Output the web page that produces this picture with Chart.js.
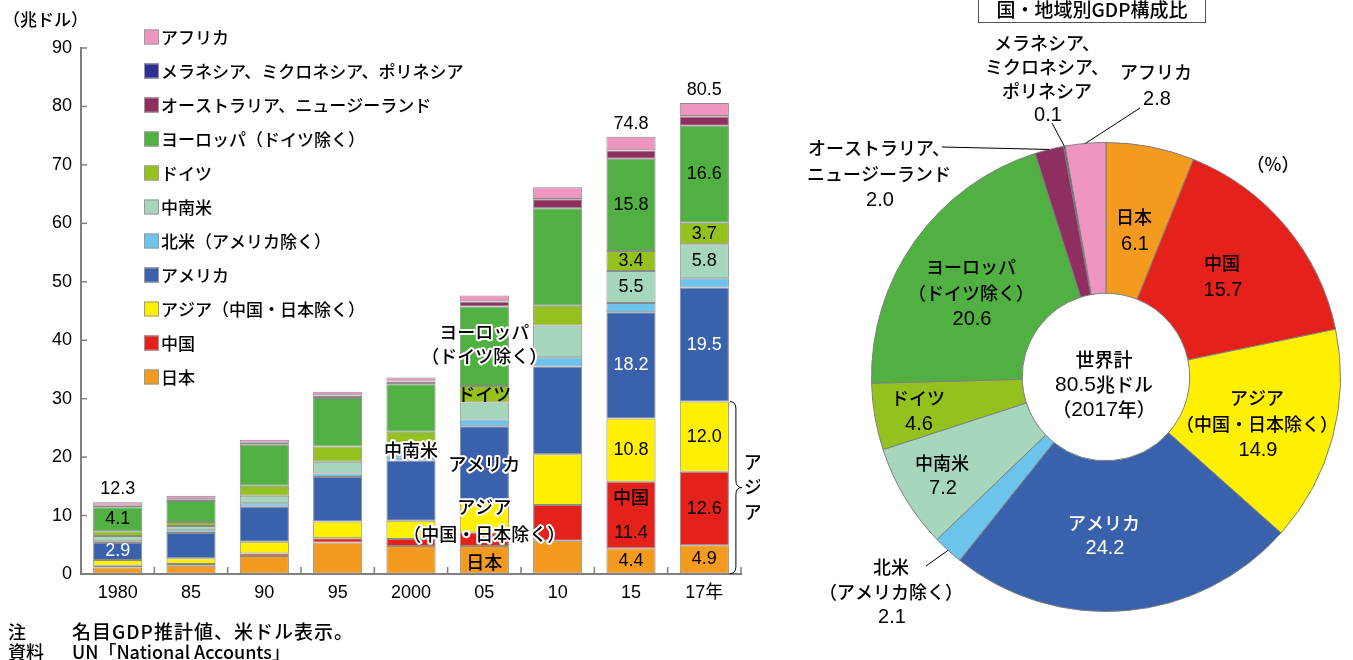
<!DOCTYPE html>
<html lang="ja">
<head>
<meta charset="utf-8">
<title>国・地域別GDP</title>
<script src="https://cdn.jsdelivr.net/npm/chart.js"></script>
<style>
  html, body { margin: 0; padding: 0; background: #fff; }
  body { width: 1353px; height: 660px; position: relative; overflow: hidden; font-family: "Noto Sans CJK JP", sans-serif; font-weight: 500; color: #000; }
  #barChart { position: absolute; left: 0; top: 0; }
  #pieChart { position: absolute; left: 760px; top: 0; }
  .txt { position: absolute; white-space: nowrap; }
  .unit { left: 3px; top: 8px; font-size: 17px; line-height: 22px; }
  .title { left: 978px; top: -12px; width: 228px; height: 35px; box-sizing: border-box; border: 1px solid #555; text-align: center; font-size: 19px; line-height: 19px; padding-top: 10px; }
  .note { left: 8px; font-size: 18px; line-height: 20px; }
  .note span { position: absolute; left: 64px; }
  .note span.wide { font-size: 19px; letter-spacing: 1px; }
</style>
</head>
<body>
<canvas id="barChart" width="760" height="660"></canvas>
<canvas id="pieChart" width="593" height="660"></canvas>
<div class="txt unit">（兆ドル）</div>
<div class="txt title">国・地域別GDP構成比</div>
<div class="txt note" style="top:621px">注<span class="wide">名目GDP推計値、米ドル表示。</span></div>
<div class="txt note" style="top:641px">資料<span>UN「National Accounts」</span></div>
<script>
// ---- data (兆ドル) ----
const years = ['1980', '85', '90', '95', '2000', '05', '10', '15', '17年'];

const japan    = [1.1, 1.4, 3.1, 5.4, 4.8, 4.8, 5.7, 4.4, 4.9];
const china    = [0.3, 0.3, 0.4, 0.7, 1.2, 2.3, 6.1, 11.4, 12.6];
const asiaEx   = [1.0, 1.0, 2.0, 2.9, 3.1, 5.1, 8.7, 10.8, 12.0];
const america  = [2.9, 4.3, 6.0, 7.6, 10.3, 13.1, 15.0, 18.2, 19.5];
const northAm  = [0.3, 0.5, 0.6, 0.6, 0.75, 1.15, 1.6, 1.55, 1.6];
const latinAm  = [0.9, 0.7, 1.3, 2.0, 2.3, 2.9, 5.4, 5.5, 5.8];
const germany  = [0.8, 0.7, 1.7, 2.6, 1.9, 2.8, 3.4, 3.4, 3.7];
const europeEx = [4.1, 3.6, 7.0, 8.3, 8.1, 13.6, 16.7, 15.8, 16.6];
const ausNz    = [0.25, 0.3, 0.35, 0.45, 0.45, 0.85, 1.5, 1.4, 1.6];
const oceania  = [0.01, 0.01, 0.02, 0.03, 0.03, 0.05, 0.06, 0.07, 0.08];
const africa   = [0.6, 0.6, 0.5, 0.6, 0.7, 1.0, 2.0, 2.3, 2.2];

const totalShown = [12.3, null, null, null, null, null, null, 74.8, 80.5];

// 2017年 構成比 (%)
const share2017 = [6.1, 15.7, 14.9, 24.2, 2.1, 7.2, 4.6, 20.6, 2.0, 0.1, 2.8];

const regionNames = ['日本', '中国', 'アジア（中国・日本除く）', 'アメリカ', '北米（アメリカ除く）', '中南米',
  'ドイツ', 'ヨーロッパ（ドイツ除く）', 'オーストラリア、ニュージーランド', 'メラネシア、ミクロネシア、ポリネシア', 'アフリカ'];
const regionValues = [japan, china, asiaEx, america, northAm, latinAm, germany, europeEx, ausNz, oceania, africa];
const regionColors = ['#F39A1F', '#E5211B', '#FFF000', '#3A61AB', '#6CC3EC', '#A6D6BC',
  '#95C11F', '#50B041', '#8F2F5F', '#2E3191', '#EE96C0'];

const GRAY = '#7f7f7f';
const NUM_FONT = '"Liberation Sans", Arial, "Noto Sans CJK JP", sans-serif';
const NARROW_FONT = '"Liberation Sans Narrow", "Arial Narrow", "Liberation Sans", sans-serif';
const JP_FONT = '"Noto Sans CJK JP", sans-serif';

function drawText(ctx, text, x, y, font, color, halo) {
  ctx.font = font;
  ctx.textAlign = 'center';
  ctx.textBaseline = 'middle';
  if (halo) {
    ctx.lineWidth = 4;
    ctx.lineJoin = 'round';
    ctx.strokeStyle = '#fff';
    ctx.strokeText(text, x, y);
  }
  ctx.fillStyle = color || '#000';
  ctx.fillText(text, x, y);
}

// text made of runs in different fonts, centered on x
function drawMixed(ctx, parts, x, y, color) {
  ctx.textBaseline = 'middle';
  ctx.textAlign = 'left';
  let w = 0;
  parts.forEach(p => { ctx.font = p[1]; w += ctx.measureText(p[0]).width; });
  let cx = x - w / 2;
  ctx.fillStyle = color || '#000';
  parts.forEach(p => { ctx.font = p[1]; ctx.fillText(p[0], cx, y); cx += ctx.measureText(p[0]).width; });
}

// ---- bar chart decorations ----
const barDecor = {
  id: 'barDecor',
  afterDraw(chart) {
    const ctx = chart.ctx;
    const xs = chart.scales.x, ys = chart.scales.y, area = chart.chartArea;
    const seg = (di, i) => {
      const el = chart.getDatasetMeta(di).data[i];
      return { x: el.x, y: (el.y + el.base) / 2, top: Math.min(el.y, el.base), bottom: Math.max(el.y, el.base), right: el.x + el.width / 2 };
    };
    ctx.save();

    // ticks pointing inwards
    ctx.strokeStyle = GRAY;
    ctx.lineWidth = 1.5;
    ys.ticks.forEach(t => {
      const py = ys.getPixelForValue(t.value);
      ctx.beginPath(); ctx.moveTo(area.left, py); ctx.lineTo(area.left + 6, py); ctx.stroke();
    });
    for (let i = 1; i <= years.length; i++) {
      const px = i < years.length ? (xs.getPixelForValue(i - 1) + xs.getPixelForValue(i)) / 2 : area.right;
      ctx.beginPath(); ctx.moveTo(px, area.bottom); ctx.lineTo(px, area.bottom - 7); ctx.stroke();
    }

    // legend (top to bottom = reversed stack)
    const order = regionNames.map((n, i) => i).reverse();
    order.forEach((di, k) => {
      const ly = 37 + k * 34;
      ctx.fillStyle = regionColors[di];
      ctx.fillRect(144, ly - 7.5, 15, 15);
      ctx.strokeStyle = '#9a9a9a'; ctx.lineWidth = 1;
      ctx.strokeRect(144.5, ly - 7, 14, 14);
      ctx.font = '500 17px ' + JP_FONT;
      ctx.textAlign = 'left'; ctx.textBaseline = 'middle';
      ctx.fillStyle = '#000';
      ctx.fillText(regionNames[di], 161, ly + 1);
    });

    // totals above bars
    const topIdx = regionValues.length - 1;
    totalShown.forEach((v, i) => {
      if (v == null) return;
      const s = seg(topIdx, i);
      drawText(ctx, v.toFixed(1), s.x, s.top - 13, '18px ' + NUM_FONT, '#000');
    });

    // values inside segments: [year index, dataset index, colour]
    const valueMarks = [
      [0, 7], [0, 3, '#fff'],
      [7, 7], [7, 6], [7, 5], [7, 3, '#fff'], [7, 2], [7, 0],
      [8, 7], [8, 6], [8, 5], [8, 3, '#fff'], [8, 2], [8, 1], [8, 0]
    ];
    valueMarks.forEach(m => {
      const s = seg(m[1], m[0]);
      drawText(ctx, regionValues[m[1]][m[0]].toFixed(1), s.x, s.y, '18px ' + NUM_FONT, m[2] || '#000');
    });
    const c15 = seg(1, 7);
    drawText(ctx, '中国', c15.x, c15.y - 18, '500 18px ' + JP_FONT, '#000');
    drawText(ctx, china[7].toFixed(1), c15.x, c15.y + 18, '18px ' + NUM_FONT, '#000');

    // region names on the 2005 (and 2000) bars
    const jp18 = '500 18px ' + JP_FONT;
    const eu = seg(7, 5);
    drawText(ctx, 'ヨーロッパ', eu.x, eu.y - 14, jp18, '#000', true);
    drawText(ctx, '（ドイツ除く）', eu.x, eu.y + 10, jp18, '#000', true);
    const de = seg(6, 5);
    drawText(ctx, 'ドイツ', de.x, de.y, jp18, '#000');
    const la = seg(5, 4);
    drawText(ctx, '中南米', la.x, la.y + 1, jp18, '#000', true);
    const us = seg(3, 5);
    drawText(ctx, 'アメリカ', us.x, us.y, jp18, '#000', true);
    const as = seg(2, 5);
    drawText(ctx, 'アジア', as.x, as.y - 10, jp18, '#000', true);
    drawText(ctx, '（中国・日本除く）', as.x, as.y + 17, jp18, '#000', true);
    const jp = seg(0, 5);
    drawText(ctx, '日本', jp.x, jp.y + 2, jp18, '#000');

    // brace for アジア total on 2017 bar
    const top = seg(2, 8).top, bottom = seg(0, 8).bottom, xr = seg(0, 8).right;
    const mid = (top + bottom) / 2;
    const xa = xr + 1, xb = xr + 7, xc = xr + 13;
    ctx.strokeStyle = '#000'; ctx.lineWidth = 1;
    ctx.beginPath();
    ctx.moveTo(xa, top);
    ctx.quadraticCurveTo(xb, top, xb, top + 7);
    ctx.lineTo(xb, mid - 7);
    ctx.quadraticCurveTo(xb, mid, xc, mid);
    ctx.quadraticCurveTo(xb, mid, xb, mid + 7);
    ctx.lineTo(xb, bottom - 7);
    ctx.quadraticCurveTo(xb, bottom, xa, bottom);
    ctx.stroke();
    ['ア', 'ジ', 'ア'].forEach((ch, k) => drawText(ctx, ch, xr + 24, mid - 25 + k * 25, jp18, '#000'));

    ctx.restore();
  }
};

new Chart(document.getElementById('barChart'), {
  type: 'bar',
  data: {
    labels: years,
    datasets: regionValues.map((vals, i) => ({
      label: regionNames[i],
      data: vals,
      backgroundColor: regionColors[i],
      borderColor: '#8a8a8a',
      borderWidth: 1,
      borderSkipped: false,
      barPercentage: 0.67,
      categoryPercentage: 1.0
    }))
  },
  options: {
    responsive: false,
    devicePixelRatio: 1,
    animation: false,
    layout: { padding: { left: 0, right: 19, top: 48, bottom: 0 } },
    plugins: { legend: { display: false }, tooltip: { enabled: false } },
    scales: {
      x: {
        stacked: true,
        offset: true,
        grid: { drawOnChartArea: false, drawTicks: false },
        border: { color: GRAY, width: 2 },
        ticks: { color: '#000', font: { size: 18, family: NUM_FONT }, padding: 8, maxRotation: 0 },
        afterFit(s) { s.height = 86; }
      },
      y: {
        stacked: true,
        min: 0,
        max: 90,
        grid: { drawOnChartArea: false, drawTicks: false },
        border: { color: GRAY, width: 2 },
        ticks: { stepSize: 10, color: '#000', font: { size: 18, family: NUM_FONT }, padding: 9 },
        afterFit(s) { s.width = 81; }
      }
    }
  },
  plugins: [barDecor]
});

// ---- doughnut decorations ----
const pieDecor = {
  id: 'pieDecor',
  afterDraw(chart) {
    const ctx = chart.ctx;
    const arcs = chart.getDatasetMeta(0).data;
    const cx = arcs[0].x, cy = arcs[0].y;
    const jp = '500 18px ' + JP_FONT, num = '20px ' + NARROW_FONT;
    ctx.save();

    // [slice, dx, dy of first line, lines, gap, colour]
    const layout = [
      [0, 28, -160, ['日本'], 27],
      [1, 116, -114, ['中国'], 27],
      [2, 151, 21, ['アジア', '（中国・日本除く）'], 26],
      [3, -2, 146, ['アメリカ'], 25, '#fff'],
      [4, -215, 190, ['北米', '（アメリカ除く）'], 25],
      [5, -164, 86, ['中南米'], 25],
      [6, -188, 21, ['ドイツ'], 26],
      [7, -135, -110, ['ヨーロッパ', '（ドイツ除く）'], 26],
      [8, -227, -229, ['オーストラリア、', 'ニュージーランド'], 26],
      [9, -59, -334, ['メラネシア、', 'ミクロネシア、', 'ポリネシア'], 24],
      [10, 50, -305, ['アフリカ'], 27]
    ];
    layout.forEach(l => {
      const [i, dx, dy, lines, gap, color] = l;
      lines.forEach((t, k) => drawText(ctx, t, cx + dx, cy + dy + k * gap, jp, color || '#000'));
      drawText(ctx, share2017[i].toFixed(1), cx + dx + 1, cy + dy + lines.length * gap, num, color || '#000');
    });

    // leader lines from label to the outer edge of small slices
    const leaders = [[8, -164, -230], [9, -54, -254], [10, 34, -269], [4, -180, 189]];
    ctx.strokeStyle = '#000'; ctx.lineWidth = 1;
    leaders.forEach(l => {
      const a = arcs[l[0]];
      const m = (a.startAngle + a.endAngle) / 2;
      ctx.beginPath();
      ctx.moveTo(cx + l[1], cy + l[2]);
      ctx.lineTo(cx + Math.cos(m) * a.outerRadius, cy + Math.sin(m) * a.outerRadius);
      ctx.stroke();
    });

    drawText(ctx, '（%）', cx + 167, cy - 213, jp, '#000');

    // centre
    const jpc = '500 19px ' + JP_FONT, numc = '21px ' + NARROW_FONT;
    drawText(ctx, '世界計', cx - 2, cy - 17, jpc, '#000');
    drawMixed(ctx, [['80.5', numc], ['兆ドル', jpc]], cx - 2, cy + 8);
    drawMixed(ctx, [['（', jpc], ['2017', numc], ['年）', jpc]], cx - 2, cy + 33);
    ctx.restore();
  }
};

new Chart(document.getElementById('pieChart'), {
  type: 'doughnut',
  data: {
    labels: regionNames,
    datasets: [{
      data: share2017,
      backgroundColor: regionColors,
      borderColor: GRAY,
      borderWidth: 1
    }]
  },
  options: {
    responsive: false,
    devicePixelRatio: 1,
    animation: false,
    cutout: '35.7%',
    layout: { padding: { left: 111, right: 12, top: 142, bottom: 48 } },
    plugins: { legend: { display: false }, tooltip: { enabled: false } }
  },
  plugins: [pieDecor]
});
</script>
</body>
</html>
